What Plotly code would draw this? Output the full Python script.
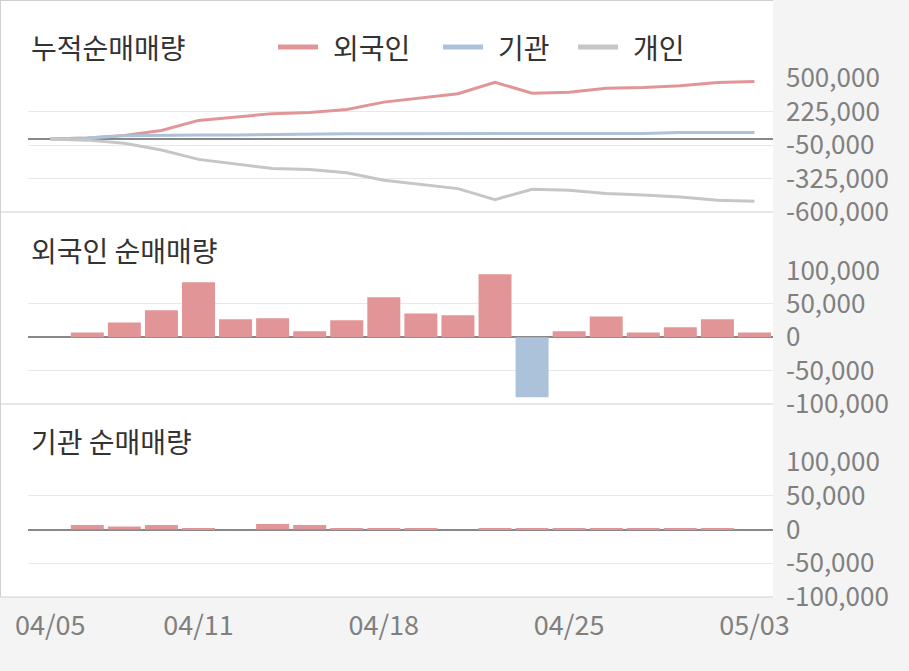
import plotly.graph_objects as go
from plotly.subplots import make_subplots

# trading days (2019-04-05 ~ 2019-05-03)
dates = ["04/05", "04/08", "04/09", "04/10", "04/11", "04/12", "04/15", "04/16", "04/17", "04/18",
         "04/19", "04/22", "04/23", "04/24", "04/25", "04/26", "04/29", "04/30", "05/02", "05/03"]
tick_dates = ["04/05", "04/11", "04/18", "04/25", "05/03"]

# cumulative net buying (누적순매매량)
cum_foreign = [0, 7000, 29000, 69500, 152000, 179000, 207500, 216500, 242000, 302000,
               337500, 370500, 465000, 375000, 384000, 415000, 422000, 437000, 464000, 471000]
cum_inst = [0, 8000, 25000, 32000, 33000, 33000, 38000, 42000, 43000, 43000,
            43000, 43000, 43000, 43000, 43000, 43000, 44000, 52000, 52000, 52000]
cum_indiv = [0, -10000, -36000, -91000, -168000, -207000, -243000, -251000, -278000, -339000,
             -372000, -408000, -498000, -413000, -421000, -449000, -460000, -476000, -504000, -512000]

# daily net buying
foreign_daily = [0, 7000, 22000, 40500, 82500, 27000, 28500, 9000, 25500, 60000,
                 35500, 33000, 94500, -90000, 9000, 31000, 7000, 15000, 27000, 7000]
inst_daily = [0, 6500, 4500, 6500, 2000, 0, 8000, 6500, 1500, 1500,
              1500, 0, 1500, 1500, 1500, 1500, 1500, 1500, 1500, 0]

tick1 = [500000, 225000, -50000, -325000, -600000]
tick2 = [100000, 50000, 0, -50000, -100000]

RED = "#e29597"
BLUE = "#abc2da"
GRAY = "#c6c6c6"
FONT = "Noto Sans CJK KR"

W, H = 909, 671
L, R, T, B = 28, 136, 78, 74
pw, ph = W - L - R, H - T - B


def px_x(x):
    return (x - L) / pw


def px_y(y):
    return (H - B - y) / ph


fig = make_subplots(rows=3, cols=1, shared_xaxes=True)

fig.add_trace(go.Scatter(x=dates, y=cum_foreign, mode="lines", line=dict(color=RED, width=3), name="외국인"), row=1, col=1)
fig.add_trace(go.Scatter(x=dates, y=cum_inst, mode="lines", line=dict(color=BLUE, width=3), name="기관"), row=1, col=1)
fig.add_trace(go.Scatter(x=dates, y=cum_indiv, mode="lines", line=dict(color=GRAY, width=3), name="개인"), row=1, col=1)

fig.add_trace(go.Bar(x=dates, y=foreign_daily, marker_color=[RED if v >= 0 else BLUE for v in foreign_daily],
                     marker_line_width=0), row=2, col=1)
fig.add_trace(go.Bar(x=dates, y=inst_daily, marker_color=[RED if v >= 0 else BLUE for v in inst_daily],
                     marker_line_width=0), row=3, col=1)

domains = [(px_y(212), 1.0), (px_y(404), px_y(270.5)), (0.0, px_y(462))]
ranges = [[-600000, 500000], [-100000, 100000], [-100000, 100000]]
ticks = [tick1, tick2, tick2]
for i in range(3):
    fig.update_yaxes(
        row=i + 1, col=1, domain=list(domains[i]), range=ranges[i], side="right",
        tickvals=ticks[i], ticktext=[f"{v:,}" for v in ticks[i]],
        tickfont=dict(family=FONT, size=26, color="#808080"),
        showgrid=True, gridcolor="#e8e8e8", gridwidth=1,
        zeroline=True, zerolinecolor="#888888", zerolinewidth=2,
        showline=False, ticks="", ticklabelstandoff=12, fixedrange=True,
    )
    fig.update_xaxes(
        row=i + 1, col=1, type="category", range=[-0.6, 19.5],
        showgrid=False, zeroline=False, showline=False,
        tickvals=tick_dates, ticktext=tick_dates, ticks="",
        tickfont=dict(family=FONT, size=27, color="#808080"),
        showticklabels=(i == 2), ticklabelstandoff=10, fixedrange=True,
    )

shapes = [
    # white panel area
    dict(type="rect", xref="paper", yref="paper", x0=px_x(0), x1=1, y0=0, y1=px_y(0),
         fillcolor="white", line_width=0, layer="below"),
    # borders / separators
    dict(type="line", xref="paper", yref="paper", x0=px_x(0.5), x1=px_x(0.5), y0=0, y1=px_y(0),
         line=dict(color="#d0d0d0", width=1)),
    dict(type="line", xref="paper", yref="paper", x0=px_x(0), x1=1, y0=px_y(0.5), y1=px_y(0.5),
         line=dict(color="#d0d0d0", width=1)),
]
for yy in (212, 404, 597):
    shapes.append(dict(type="line", xref="paper", yref="paper", x0=px_x(0), x1=1, y0=px_y(yy), y1=px_y(yy),
                       line=dict(color="#cfcfcf", width=1)))

# legend swatches
legend_items = [("외국인", RED, 278), ("기관", BLUE, 443), ("개인", GRAY, 578)]
annotations = []
for label, color, x0 in legend_items:
    shapes.append(dict(type="line", xref="paper", yref="paper", x0=px_x(x0), x1=px_x(x0 + 40),
                       y0=px_y(47), y1=px_y(47), line=dict(color=color, width=5)))
    annotations.append(dict(text=label, xref="paper", yref="paper", x=px_x(x0 + 53), y=px_y(47),
                            xanchor="left", yanchor="middle", showarrow=False,
                            font=dict(family=FONT, size=28, color="#333333")))

for text, y in (("누적순매매량", 47), ("외국인 순매매량", 250), ("기관 순매매량", 441)):
    annotations.append(dict(text=text, xref="paper", yref="paper", x=px_x(29), y=px_y(y),
                            xanchor="left", yanchor="middle", showarrow=False,
                            font=dict(family=FONT, size=28, color="#333333")))

fig.update_layout(
    width=W, height=H,
    margin=dict(l=L, r=R, t=T, b=B),
    paper_bgcolor="#f4f4f4", plot_bgcolor="white",
    showlegend=False, bargap=0.11,
    shapes=shapes, annotations=annotations,
    font=dict(family=FONT),
)

fig.write_html("out.html", config={"displayModeBar": False},
               post_script="document.body.style.margin='0';")
